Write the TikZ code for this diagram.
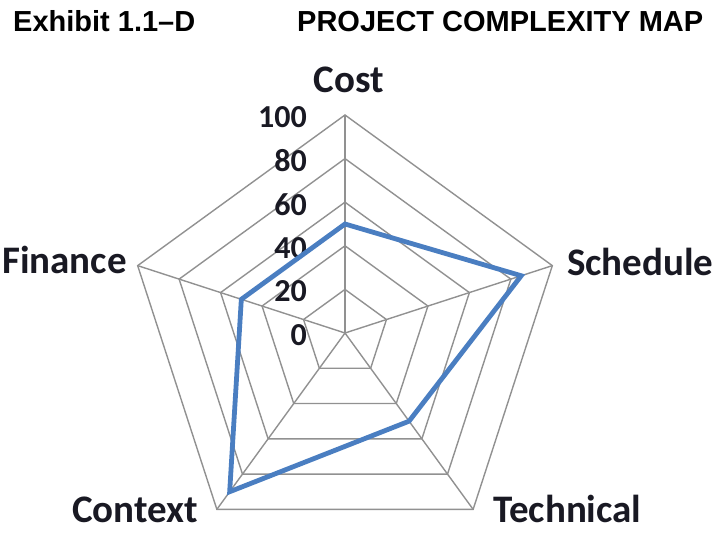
\documentclass[tikz,border=0pt]{standalone}
\usepackage{fontspec}
\setmainfont{Carlito}
\newfontfamily\arialfont{Liberation Sans}[Ligatures=TeX]

\definecolor{gridgray}{RGB}{145,145,145}
\definecolor{seriesblue}{RGB}{74,126,193}
\definecolor{labelink}{RGB}{25,25,35}

\begin{document}
\begin{tikzpicture}[x=1pt,y=1pt,
    grid/.style={draw=gridgray,line width=1.4pt},
    series/.style={draw=seriesblue,line width=4.8pt,line join=miter},
    axislabel/.style={font=\fontsize{39}{39}\selectfont\bfseries,text=labelink,inner sep=0pt},
    ticklabel/.style={font=\fontsize{32}{32}\selectfont\bfseries,text=labelink,inner sep=0pt,anchor=east},
    titletext/.style={font=\arialfont\fontsize{29}{29}\selectfont\bfseries,inner sep=0pt,anchor=base west}]

        \useasboundingbox (-345,-200) rectangle (380,333);

        % Title
        \node[titletext] (exhibit) at (-332,301) {Exhibit 1.1–D};
        \node[titletext] (maptitle) at (-48,301) {PROJECT COMPLEXITY MAP};

        % Centre and outer corners
        \coordinate (O) at (0,0);
        \coordinate (Cost) at (90:218);
        \coordinate (Sched) at (18:218);
        \coordinate (Tech) at (-54:218);
        \coordinate (Ctx) at (-126:218);
        \coordinate (Fin) at (162:218);

        % Rings (20, 40, 60, 80, 100)
        \draw[grid] (90:43.6) -- (18:43.6) -- (-54:43.6) -- (-126:43.6) -- (162:43.6) -- cycle;
        \draw[grid] (90:87.2) -- (18:87.2) -- (-54:87.2) -- (-126:87.2) -- (162:87.2) -- cycle;
        \draw[grid] (90:130.8) -- (18:130.8) -- (-54:130.8) -- (-126:130.8) -- (162:130.8) -- cycle;
        \draw[grid] (90:174.4) -- (18:174.4) -- (-54:174.4) -- (-126:174.4) -- (162:174.4) -- cycle;
        \draw[grid] (Cost) -- (Sched) -- (Tech) -- (Ctx) -- (Fin) -- cycle;

        % Spokes
        \path[grid] (O) edge (Cost);
        \path[grid] (O) edge (Sched);
        \path[grid] (O) edge (Tech);
        \path[grid] (O) edge (Ctx);
        \path[grid] (O) edge (Fin);

        % Scale
        \node[ticklabel] (t0) at (-38,-2) {0};
        \node[ticklabel] (t20) at (-38,41.6) {20};
        \node[ticklabel] (t40) at (-38,85.2) {40};
        \node[ticklabel] (t60) at (-38,128.8) {60};
        \node[ticklabel] (t80) at (-38,172.4) {80};
        \node[ticklabel] (t100) at (-38,216) {100};

        % Scores
        \coordinate (pCost) at (90:109);
        \coordinate (pSched) at (18:185.3);
        \coordinate (pTech) at (-54:109);
        \coordinate (pCtx) at (-126:196.2);
        \coordinate (pFin) at (162:109);
        \draw[series] (pCost) -- (pSched) -- (pTech) -- (pCtx) -- (pFin) -- cycle;

        % Axis names
        \node[axislabel,anchor=base] (lCost) at (4,240) {Cost};
        \node[axislabel,anchor=base west] (lSched) at (222,58) {Schedule};
        \node[axislabel,anchor=base west] (lTech) at (148,-189) {Technical};
        \node[axislabel,anchor=base east] (lCtx) at (-147,-189) {Context};
        \node[axislabel,anchor=base east] (lFin) at (-218,60) {Finance};

\end{tikzpicture}
\end{document}
